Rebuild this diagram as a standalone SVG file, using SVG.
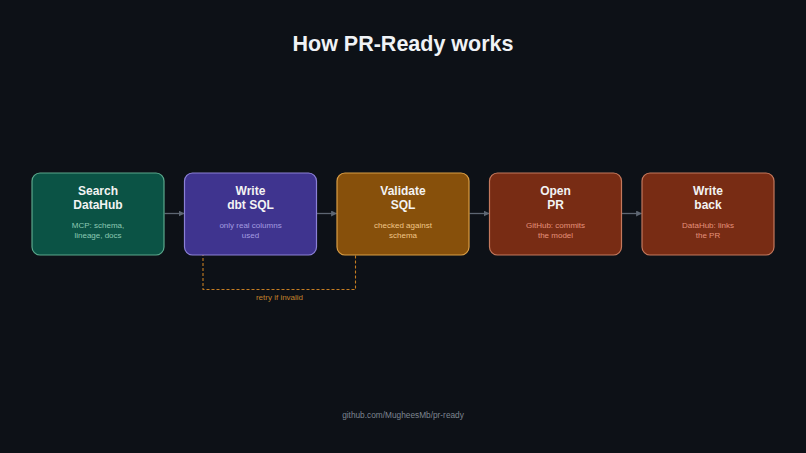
<svg xmlns="http://www.w3.org/2000/svg" width="806" height="453" viewBox="0 0 806 453">
<defs>
<style>
.bg{fill:#0d1117}
.title{font-family:"Liberation Sans",Arial,sans-serif;font-size:21.5px;font-weight:bold;fill:#f0f3f6;text-anchor:middle}
.h{font-family:"Liberation Sans",Arial,sans-serif;font-size:12px;font-weight:bold;fill:#f3f3f3;text-anchor:middle}
.s{font-family:"Liberation Sans",Arial,sans-serif;font-size:8px;text-anchor:middle}
.box{stroke-width:1.2}
.conn{stroke:#5d6672;stroke-width:1.3;fill:none}
.loop{stroke:#c57d22;stroke-width:1.1;stroke-dasharray:3,2;fill:none}
.foot{font-family:"Liberation Sans",Arial,sans-serif;font-size:8.3px;fill:#7d8590;text-anchor:middle}
</style>
<marker id="ah" viewBox="0 0 10 10" refX="9" refY="5" markerWidth="6" markerHeight="6" markerUnits="userSpaceOnUse" orient="auto">
<path d="M0,0 L10,5 L0,10 z" fill="#5d6672"/>
</marker>
</defs>
<rect class="bg" x="0" y="0" width="806" height="453"/>
<text class="title" x="403" y="51">How PR-Ready works</text>

<g id="connectors">
<line class="conn" x1="164.5" y1="213.5" x2="184" y2="213.5" marker-end="url(#ah)"/>
<line class="conn" x1="317" y1="213.5" x2="336.5" y2="213.5" marker-end="url(#ah)"/>
<line class="conn" x1="469.5" y1="213.5" x2="489" y2="213.5" marker-end="url(#ah)"/>
<line class="conn" x1="622" y1="213.5" x2="641.5" y2="213.5" marker-end="url(#ah)"/>
<path class="loop" d="M355.5,255.5 V289.5 H203 V253"/>
<path d="M200.5,248.5 L205.5,248.5 L203,253 z" fill="#d08f30"/>
<text class="s" x="279.5" y="299.5" fill="#c1812c">retry if invalid</text>
</g>

<g id="search">
<rect class="box" x="32" y="173" width="132" height="82" rx="8" fill="#0b5345" stroke="#5aa88c"/>
<text class="h" x="98" y="195">Search</text>
<text class="h" x="98" y="209">DataHub</text>
<text class="s" x="98" y="228" fill="#8cc9b3">MCP: schema,</text>
<text class="s" x="98" y="238" fill="#8cc9b3">lineage, docs</text>
</g>

<g id="write-sql">
<rect class="box" x="184.5" y="173" width="132" height="82" rx="8" fill="#3f348f" stroke="#8b80d6"/>
<text class="h" x="250.5" y="195">Write</text>
<text class="h" x="250.5" y="209">dbt SQL</text>
<text class="s" x="250.5" y="228" fill="#a39ce0">only real columns</text>
<text class="s" x="250.5" y="238" fill="#a39ce0">used</text>
</g>

<g id="validate">
<rect class="box" x="337" y="173" width="132" height="82" rx="8" fill="#87500b" stroke="#d99d45"/>
<text class="h" x="403" y="195">Validate</text>
<text class="h" x="403" y="209">SQL</text>
<text class="s" x="403" y="228" fill="#f1c687">checked against</text>
<text class="s" x="403" y="238" fill="#f1c687">schema</text>
</g>

<g id="open-pr">
<rect class="box" x="489.5" y="173" width="132" height="82" rx="8" fill="#782c14" stroke="#c4785c"/>
<text class="h" x="555.5" y="195">Open</text>
<text class="h" x="555.5" y="209">PR</text>
<text class="s" x="555.5" y="228" fill="#e4917a">GitHub: commits</text>
<text class="s" x="555.5" y="238" fill="#e4917a">the model</text>
</g>

<g id="write-back">
<rect class="box" x="642" y="173" width="132" height="82" rx="8" fill="#782c14" stroke="#c4785c"/>
<text class="h" x="708" y="195">Write</text>
<text class="h" x="708" y="209">back</text>
<text class="s" x="708" y="228" fill="#e4917a">DataHub: links</text>
<text class="s" x="708" y="238" fill="#e4917a">the PR</text>
</g>

<text class="foot" x="403" y="418">github.com/MugheesMb/pr-ready</text>
</svg>
